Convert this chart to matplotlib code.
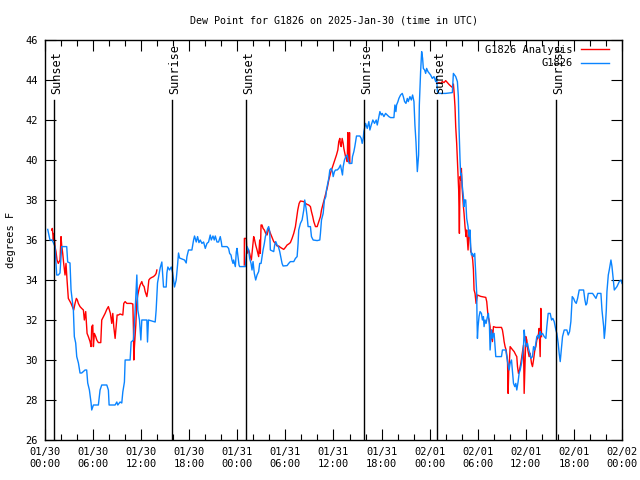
import numpy as np
import matplotlib
matplotlib.use("Agg")
import matplotlib.pyplot as plt
import matplotlib.dates as mdates
from datetime import datetime, timedelta

start = datetime(2025, 1, 30)

# station obs: hours since 01/30 00:00 UTC, dew point F
obs_hours = [0.34, 0.62, 0.9, 1.25, 1.46, 1.66, 1.87, 2.08, 2.71, 2.83, 3.12, 3.25, 3.54, 3.66, 3.83, 3.96,
             4.17, 4.37, 4.58, 5.0, 5.2, 5.33, 5.54, 5.75, 5.83, 6.04, 6.66, 6.87, 7.08, 7.71, 7.91, 8.0,
             8.75, 8.96, 9.08, 9.37, 9.58, 9.71, 9.91, 10.0, 10.62, 10.75, 11.04, 11.25, 11.46, 11.58, 11.79,
             11.96, 12.08, 12.71, 12.79, 12.91, 13.75, 13.87, 14.04, 14.37, 14.58, 14.71, 14.79, 15.12, 15.21,
             15.33, 15.54, 15.75, 15.91, 16.16, 16.37, 16.54, 16.66, 16.79, 17.41, 17.62, 17.71, 17.91, 18.33,
             18.54, 18.66, 18.87, 19.04, 19.21, 19.37, 19.58, 19.79, 20.0, 20.21, 20.41, 20.62, 20.75, 20.96,
             21.12, 21.25, 21.46, 21.66, 21.87, 22.0, 22.08, 22.71, 22.91, 23.04, 23.21, 23.33, 23.46, 23.54,
             23.75, 23.87, 23.96, 24.08, 24.21, 24.29, 25.0, 25.21, 25.41, 25.54, 25.71, 25.83, 25.96, 26.12,
             26.29, 26.46, 26.66, 26.79, 26.96, 27.08, 27.21, 27.37, 27.5, 27.62, 27.79, 27.91, 28.04, 28.12,
             28.54, 28.66, 28.79, 28.96, 29.12, 29.29, 29.46, 29.58, 29.71, 30.21, 30.41, 30.62, 31.04, 31.25,
             31.46, 31.58, 31.66, 31.87, 32.08, 32.29, 32.41, 32.58, 32.71, 32.83, 33.12, 33.25, 33.46, 33.96,
             34.29, 34.37, 34.5, 34.71, 34.87, 35.04, 35.12, 35.29, 35.41, 35.54, 35.71, 35.87, 35.96, 36.12,
             36.25, 36.46, 36.66, 36.87, 37.0, 37.12, 37.21, 37.37, 37.54, 37.71, 37.83, 37.96, 38.29, 38.37,
             38.54, 38.66, 38.79, 38.87, 39.29, 39.46, 39.58, 39.71, 39.79, 40.0, 40.21, 40.41, 40.54, 40.71,
             40.91, 41.12, 41.33, 41.46, 41.66, 41.79, 41.96, 42.08, 42.29, 42.5, 42.71, 42.91, 43.12, 43.54,
             43.66, 43.79, 43.87, 44.04, 44.16, 44.37, 44.58, 44.71, 44.87, 45.04, 45.21, 45.33, 45.54, 45.71,
             45.87, 46.04, 46.16, 46.29, 46.46, 46.62, 46.71, 46.87, 47.0, 47.12, 47.21, 47.37, 47.5, 47.62,
             47.79, 47.96, 48.12, 48.33, 48.54, 48.75, 48.87, 48.96, 49.16, 50.0, 50.83, 50.96, 51.25, 51.46,
             51.58, 51.66, 51.79, 51.87, 51.96, 52.08, 52.21, 52.29, 52.37, 52.5, 52.62, 52.79, 52.91, 53.04,
             53.12, 53.21, 53.33, 53.46, 53.62, 53.75, 53.87, 53.91, 53.96, 54.04, 54.16, 54.29, 54.46, 54.58,
             54.71, 54.79, 54.91, 55.04, 55.21, 55.33, 55.46, 55.54, 55.71, 55.83, 55.96, 56.04, 56.25, 56.96,
             57.08, 57.5, 57.71, 57.91, 58.04, 58.21, 58.33, 58.46, 58.62, 58.75, 58.87, 59.04, 59.16, 59.29,
             59.46, 59.58, 59.71, 59.79, 59.91, 60.04, 60.21, 60.33, 60.5, 60.62, 60.83, 60.96, 61.12, 61.37,
             61.54, 61.66, 61.79, 61.87, 62.08, 62.29, 62.5, 62.62, 62.79, 63.04, 63.21, 63.37, 63.54, 63.75,
             63.87, 64.04, 64.16, 64.29, 64.46, 64.58, 64.79, 65.12, 65.29, 65.46, 65.62, 65.79, 65.96, 66.12,
             66.29, 66.46, 66.66, 67.21, 67.37, 67.5, 67.62, 67.79, 68.33, 68.75, 68.96, 69.37, 69.5, 69.71,
             69.79, 69.91, 70.04, 70.12, 70.29, 70.41, 70.54, 70.62, 70.75, 70.87, 71.04, 71.37, 71.66, 71.87,
             72.0]
obs_dew = [36.53, 36.0, 36.0, 35.67, 34.25, 34.25, 34.35, 35.67, 35.67, 34.9, 34.85, 33.5, 32.5, 31.17, 30.85, 30.17,
           29.85, 29.35, 29.35, 29.5, 29.5, 28.85, 28.5, 27.85, 27.5, 27.75, 27.75, 28.5, 28.75, 28.75, 28.5, 27.75,
           27.75, 27.9, 27.75, 27.9, 27.85, 28.4, 28.9, 30.0, 30.0, 30.9, 31.0, 32.5, 34.25, 32.5, 32.0,
           31.0, 32.0, 32.0, 30.9, 32.0, 31.9, 32.5, 33.85, 34.6, 34.9, 34.15, 33.65, 33.65, 34.35,
           34.65, 34.5, 34.65, 34.4, 33.65, 34.0, 34.75, 35.35, 35.1, 35.0, 34.85, 35.17, 35.5, 35.5,
           36.0, 36.2, 35.9, 36.17, 35.87, 36.0, 35.83, 35.9, 35.58, 35.83, 35.9, 36.25, 36.0, 36.2,
           36.0, 36.2, 35.9, 35.9, 36.17, 35.9, 35.67, 35.67, 35.58, 35.33, 35.25, 35.0, 34.83, 35.0,
           34.67, 35.4, 35.58, 35.17, 34.75, 34.67, 34.67, 35.67, 35.5, 35.08, 34.83, 34.5, 34.92, 34.33,
           34.0, 34.25, 34.42, 34.83, 34.83, 35.17, 35.5, 35.83, 36.17, 36.33, 36.58, 36.67, 36.42, 35.5,
           35.42, 35.75, 35.92, 35.75, 35.67, 35.42, 35.08, 34.83, 34.7, 34.72, 34.83, 34.92, 34.92, 35.08,
           35.17, 35.83, 36.5, 36.83, 37.0, 37.5, 38.0, 37.58, 37.17, 36.67, 36.67, 36.17, 36.0, 35.97,
           36.0, 36.33, 37.0, 37.33, 38.0, 38.17, 38.5, 38.83, 39.08, 39.5, 39.58, 39.42, 39.17, 39.42,
           39.5, 39.5, 39.58, 39.75, 39.5, 39.25, 39.67, 40.0, 40.17, 40.25, 40.0, 39.83, 39.83, 40.17,
           40.42, 40.67, 41.0, 41.2, 41.2, 41.08, 40.83, 41.08, 41.42, 41.83, 41.58, 41.92, 41.5, 41.75,
           42.0, 41.83, 42.0, 41.75, 42.17, 42.42, 42.25, 42.33, 42.17, 42.33, 42.25, 42.17, 42.12, 42.12,
           42.75, 42.42, 42.75, 42.92, 43.08, 43.25, 43.33, 43.17, 42.92, 42.83, 43.08, 42.92, 43.17, 43.0,
           43.25, 42.92, 41.75, 40.92, 39.42, 40.25, 42.75, 44.42, 45.42, 45.08, 44.58, 44.5, 44.33, 44.58,
           44.42, 44.33, 44.25, 44.08, 44.17, 43.92, 44.17, 43.42, 43.33, 43.33, 43.37, 44.33, 44.17, 43.92,
           43.17, 41.67, 40.0, 39.25, 39.33, 38.67, 38.17, 37.67, 38.0, 38.0, 37.08, 36.67, 36.17, 36.5,
           35.67, 35.25, 35.33, 35.17, 35.33, 34.33, 33.33, 32.0, 31.08, 31.67, 32.17, 32.42, 32.33, 32.0,
           32.17, 31.67, 32.0, 31.83, 32.17, 32.33, 31.67, 30.5, 31.5, 31.08, 31.33, 31.33, 30.17, 30.17,
           30.5, 30.5, 29.92, 29.5, 29.83, 30.0, 29.42, 28.83, 28.67, 28.83, 28.5, 28.92, 29.33, 29.5,
           29.83, 30.17, 30.67, 31.5, 31.0, 30.67, 30.83, 30.58, 30.33, 30.08, 30.17, 30.67, 30.5, 31.17,
           31.25, 31.08, 31.42, 31.25, 31.33, 31.17, 31.08, 31.67, 32.33, 32.33, 32.0, 32.08, 31.92, 31.5,
           31.33, 30.83, 30.33, 29.92, 30.67, 31.17, 31.5, 31.5, 31.25, 31.42, 31.92, 33.17, 33.08, 32.92,
           32.83, 33.08, 33.5, 33.5, 33.0, 32.75, 32.83, 33.33, 33.33, 33.08, 33.33, 33.33, 32.5, 31.67,
           31.08, 31.58, 32.5, 33.42, 34.25, 34.5, 34.83, 35.0, 34.67, 34.17, 33.5, 33.67, 33.92, 34.0,
           33.83]

# analysis: three runs, nan = gap
ana_hours = [0.84, 0.91, 1.04, 1.12, 1.25, 1.37, 1.5, 1.66, 1.87, 2.0, 2.08, 2.21, 2.33, 2.5, 2.62, 2.75,
             2.91, 3.12, 3.25, 3.41, 3.58, 3.75, 3.91, 4.04, 4.16, 4.37, 4.58, 4.79, 4.91, 5.08, 5.16, 5.25,
             5.41, 5.62, 5.75, 5.83, 5.96, 6.04, 6.16, 6.33, 6.46, 6.66, 6.96, 7.08, 7.29, 7.5, 7.71, 7.91,
             8.04, 8.16, 8.33, 8.46, 8.58, 8.75, 8.87, 9.0, 9.16, 9.37, 9.71, 9.83, 10.0, 10.21, 10.75, 10.96,
             11.04, 11.08, 11.16, 11.33, 11.46, 11.58, 11.75, 11.87, 12.08, 12.21, 12.37, 12.5, 12.71, 12.83,
             12.96, 13.12, 13.33, 13.54, 13.75, 13.87, 13.96, np.nan,
             24.87, 24.88, 25.12, 25.21, 25.41, 25.54, 25.62, 25.75, 25.87, 26.04, 26.16, 26.29, 26.46, 26.66,
             26.79, 26.87, 26.96, 27.08, 27.21, 27.37, 27.54, 27.71, 27.91, 28.04, 28.21, 28.37, 28.54, 28.75,
             28.96, 29.16, 29.37, 29.58, 29.79, 30.0, 30.21, 30.41, 30.62, 30.83, 31.04, 31.25, 31.37, 31.54,
             31.71, 31.87, 32.29, 32.5, 32.71, 32.91, 33.12, 33.25, 33.41, 33.54, 33.75, 33.96, 34.16, 34.37,
             34.5, 34.71, 34.87, 35.04, 35.21, 35.41, 35.62, 35.75, 35.96, 36.16, 36.37, 36.54, 36.66, 36.79,
             36.87, 36.96, 37.08, 37.21, 37.29, 37.37, 37.5, 37.62, 37.71, 37.79, 37.83, 37.91, 38.0, 38.04,
             np.nan,
             48.87, 49.16, 49.37, 49.58, 49.79, 50.0, 50.21, 50.41, 50.62, 50.83, 50.96, 51.04, 51.16, 51.25,
             51.37, 51.46, 51.54, 51.62, 51.71, 51.79, 51.87, 51.96, 52.04, 52.12, 52.21, 52.29, 52.41, 52.54,
             52.62, 52.71, 52.79, 52.91, 53.04, 53.12, 53.25, 53.37, 53.46, 53.54, 53.66, 53.79, 53.96, 54.37,
             55.0, 55.12, 55.29, 55.41, 55.54, 55.62, 55.75, 55.83, 55.96, 56.25, 56.96, 57.08, 57.21, 57.29,
             57.41, 57.54, 57.71, 57.79, 57.87, 57.96, 58.04, 58.21, 58.37, 58.54, 58.75, 58.87, 58.96, 59.08,
             59.21, 59.37, 59.5, 59.62, 59.71, 59.79, 59.87, 60.0, 60.12, 60.25, 60.41, 60.54, 60.71, 60.83,
             60.96, 61.12, 61.25, 61.37, 61.54, 61.66, 61.79, 61.87, 61.96]
ana_dew = [36.5, 36.58, 36.0, 36.33, 35.67, 35.42, 35.0, 34.83, 35.0, 36.17, 35.75, 35.33, 34.83, 34.25, 34.83, 34.0,
           33.08, 32.92, 32.83, 32.67, 32.5, 32.83, 33.08, 33.0, 32.83, 32.67, 32.58, 32.5, 32.0, 32.42, 31.92, 31.33,
           31.17, 30.92, 30.67, 31.67, 31.75, 30.67, 31.33, 31.17, 31.0, 30.87, 30.87, 32.0, 32.17, 32.33, 32.53, 32.67,
           32.5, 32.33, 31.83, 32.33, 31.67, 31.08, 31.67, 32.25, 32.25, 32.3, 32.25, 32.83, 32.92, 32.83, 32.83, 32.8,
           31.5, 30.0, 30.67, 31.75, 32.92, 33.25, 33.58, 33.75, 33.92, 33.75, 33.67, 33.42, 33.17, 33.5,
           34.0, 34.08, 34.13, 34.17, 34.25, 34.33, 34.5, np.nan,
           34.75, 36.08, 36.08, 35.33, 35.5, 35.33, 35.17, 35.0, 35.5, 36.17, 36.0, 35.75, 35.5, 35.17,
           36.0, 35.33, 36.75, 36.75, 36.58, 36.5, 36.33, 36.25, 36.58, 36.42, 36.25, 36.08, 35.92, 35.83,
           35.7, 35.7, 35.63, 35.58, 35.53, 35.63, 35.75, 35.8, 35.87, 36.08, 36.33, 36.67, 37.0, 37.5,
           37.83, 37.95, 37.92, 37.83, 37.78, 37.75, 37.67, 37.42, 37.17, 36.92, 36.67, 36.67, 36.92, 37.17,
           37.5, 37.83, 38.08, 38.33, 38.58, 39.0, 39.33, 39.5, 39.75, 40.0, 40.25, 40.5, 40.92, 41.08,
           40.75, 40.67, 41.08, 40.83, 40.58, 40.42, 40.17, 40.08, 39.92, 41.37, 40.17, 39.92, 41.37, 39.83,
           np.nan,
           43.83, 43.87, 43.83, 43.92, 43.87, 43.97, 43.87, 43.78, 43.7, 43.63, 43.8, 43.42, 42.67, 41.67,
           40.83, 40.0, 39.17, 38.5, 36.33, 39.17, 39.0, 39.58, 38.67, 38.17, 37.67, 37.33, 36.67, 36.17,
           36.5, 36.0, 35.5, 36.5, 36.17, 35.42, 35.33, 35.0, 34.5, 33.5, 33.33, 32.83, 33.25, 33.18,
           33.13, 32.92, 32.17, 32.0, 31.67, 31.0, 31.5, 30.92, 31.67, 31.63, 31.63, 31.5, 31.17, 30.92,
           30.67, 30.5, 30.0, 28.33, 29.5, 30.0, 30.67, 30.58, 30.5, 30.42, 30.25, 30.17, 29.67, 29.33,
           29.5, 29.83, 30.17, 30.5, 30.75, 28.33, 29.42, 31.17, 31.0, 30.5, 30.17, 30.33, 29.83, 29.67,
           30.0, 30.5, 30.67, 31.0, 31.17, 31.58, 30.17, 32.58, 31.17]

event_hours = [1.12, 15.9, 25.1, 39.8, 48.96, 63.8]
event_names = ["Sunset", "Sunrise", "Sunset", "Sunrise", "Sunset", "Sunrise"]

plt.rcParams["font.family"] = ["DejaVu Sans Mono"]
plt.rcParams["font.size"] = 7.5

fig = plt.figure(figsize=(6.4, 4.8), dpi=100)
ax = fig.add_axes([45 / 640, 40 / 480, 577 / 640, 400 / 480])

obs_t = [start + timedelta(hours=h) for h in obs_hours]
ana_t = [mdates.date2num(start + timedelta(hours=h)) if not np.isnan(h) else np.nan for h in ana_hours]

ax.plot(ana_t, ana_dew, color="#ff0000", lw=1.0, label="G1826 Analysis")
ax.plot(obs_t, obs_dew, color="#0a84ff", lw=1.0, label="G1826")

# sunrise / sunset markers
for h, name in zip(event_hours, event_names):
    t = start + timedelta(hours=h)
    ax.plot([t, t], [26, 43.0], color="black", lw=1.0)
    ax.text(mdates.date2num(t) + 0.012, 43.3, name, rotation=90, ha="center", va="bottom", fontsize=8.5)

ax.set_xlim(start, start + timedelta(hours=72))
ax.set_ylim(26, 46)
ax.set_yticks(np.arange(26, 47, 2))
ax.xaxis.set_major_locator(mdates.HourLocator(byhour=[0, 6, 12, 18]))
ax.xaxis.set_minor_locator(mdates.HourLocator(byhour=range(0, 24, 2)))
ax.xaxis.set_major_formatter(mdates.DateFormatter("%m/%d\n%H:%M"))
ax.tick_params(which="both", direction="in", top=True, right=True, colors="black")
ax.tick_params(which="major", length=8, width=0.8, pad=5)
ax.tick_params(which="minor", length=4, width=0.8)
for s in ax.spines.values():
    s.set_linewidth(1.0)

ax.set_title("Dew Point for G1826 on 2025-Jan-30 (time in UTC)", fontsize=7.2, pad=12)
ax.set_ylabel("degrees F", labelpad=7)

ax.legend(loc="upper right", bbox_to_anchor=(0.988, 1.004), frameon=False, fontsize=7.5,
          handlelength=2.7, markerfirst=False, borderaxespad=0.2, labelspacing=0.35, handletextpad=0.8)

fig.savefig("out.png", dpi=100)
